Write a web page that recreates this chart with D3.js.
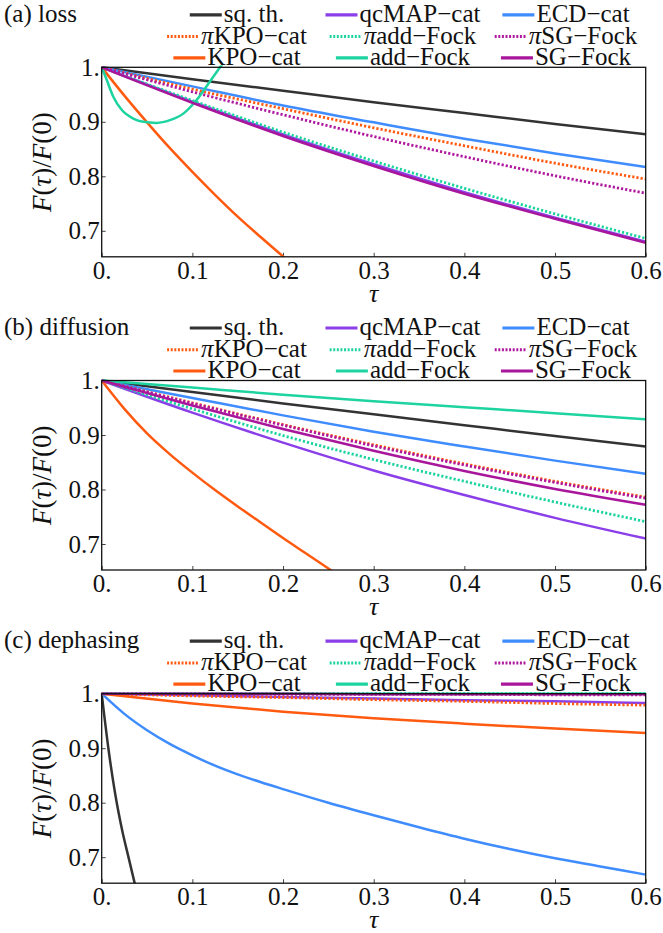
<!DOCTYPE html>
<html>
<head>
<meta charset="utf-8">
<script src="https://cdn.jsdelivr.net/npm/d3@7"></script>
<style>
  body { margin: 0; background: #fff; }
  svg { display: block; }
</style>
</head>
<body>
<div id="chart"></div>
<script>
// ---- data ----
const tau = [0, 0.1, 0.2, 0.3, 0.4, 0.5, 0.6];
const xTicks = [0, 0.1, 0.2, 0.3, 0.4, 0.5, 0.6];
const yTicks = [0.7, 0.8, 0.9, 1.0];

const legendNames = ['sq. th.', 'qcMAP−cat', 'ECD−cat',
                     'πKPO−cat', 'πadd−Fock', 'πSG−Fock',
                     'KPO−cat', 'add−Fock', 'SG−Fock'];
const panelLabels = ['(a) loss', '(b) diffusion', '(c) dephasing'];

// (a) loss
const lossSqTh  = [1, 0.978, 0.957, 0.936, 0.916, 0.896, 0.877];
const lossQcMap = [1, 0.937, 0.877, 0.822, 0.771, 0.724, 0.680];
const lossEcd   = [1, 0.965, 0.930, 0.899, 0.869, 0.842, 0.817];
const lossPiKpo = [1, 0.960, 0.924, 0.889, 0.856, 0.824, 0.795];
const lossPiAdd = [1, 0.939, 0.881, 0.828, 0.778, 0.731, 0.686];
const lossPiSg  = [1, 0.955, 0.913, 0.873, 0.836, 0.801, 0.769];
const lossKpoTau = [0, 0.025, 0.05, 0.075, 0.1, 0.125, 0.15, 0.175, 0.2, 0.225];
const lossKpo    = [1, 0.948, 0.899, 0.852, 0.808, 0.766, 0.726, 0.689, 0.653, 0.619];
const lossAddTau = [0, 0.0055, 0.0128, 0.022, 0.0349, 0.0459, 0.0606, 0.0753, 0.09, 0.1047, 0.1194, 0.1305, 0.14];
const lossAdd    = [1, 0.977, 0.946, 0.922, 0.906, 0.900, 0.898, 0.903, 0.915, 0.940, 0.974, 1.0, 1.022];
const lossSg    = [1, 0.935, 0.874, 0.819, 0.768, 0.722, 0.678];

// (b) diffusion
const diffSqTh  = [1, 0.979, 0.958, 0.938, 0.918, 0.898, 0.879];
const diffQcMap = [1, 0.941, 0.886, 0.835, 0.790, 0.748, 0.710];
const diffEcd   = [1, 0.968, 0.936, 0.906, 0.879, 0.853, 0.829];
const diffPiKpo = [1, 0.959, 0.919, 0.882, 0.847, 0.815, 0.786];
const diffPiAdd = [1, 0.948, 0.899, 0.855, 0.815, 0.777, 0.741];
const diffPiSg  = [1, 0.958, 0.918, 0.880, 0.845, 0.813, 0.784];
const diffKpoTau = [0, 0.025, 0.05, 0.075, 0.1, 0.125, 0.15, 0.175, 0.2, 0.225, 0.25, 0.275];
const diffKpo    = [1, 0.948, 0.903, 0.865, 0.831, 0.799, 0.769, 0.740, 0.711, 0.683, 0.655, 0.627];
const diffAdd   = [1, 0.987, 0.974, 0.962, 0.951, 0.940, 0.929];
const diffSg    = [1, 0.954, 0.911, 0.871, 0.834, 0.801, 0.772];

// (c) dephasing
const dephSqThTau = [0, 0.0075, 0.015, 0.0225, 0.03, 0.0375, 0.045];
const dephSqTh    = [1, 0.898, 0.815, 0.750, 0.697, 0.645, 0.600];
const dephQcMap = [1, 0.997, 0.994, 0.991, 0.988, 0.986, 0.983];
const dephEcdTau = [0, 0.025, 0.05, 0.075, 0.1, 0.125, 0.15, 0.175, 0.2, 0.25, 0.3, 0.35, 0.4, 0.45, 0.5, 0.55, 0.6];
const dephEcd    = [1, 0.963, 0.933, 0.908, 0.887, 0.868, 0.852, 0.838, 0.825, 0.800, 0.777, 0.755, 0.734, 0.715, 0.698, 0.683, 0.668];
const dephPiKpo = [1, 0.996, 0.993, 0.989, 0.986, 0.982, 0.979];
const dephPiAdd = [1, 1, 1, 1, 1, 1, 1];
const dephPiSg  = [1, 1, 0.999, 0.999, 0.999, 0.998, 0.998];
const dephKpo   = [1, 0.982, 0.967, 0.955, 0.945, 0.936, 0.928];
const dephAdd   = [1, 1, 1, 1, 1, 1, 1];
const dephSg    = [1, 1, 1, 0.999, 0.999, 0.999, 0.999];

// styles, in legend order
const styles = [
  { color: '#333333', dotted: false },
  { color: '#8B3FE8', dotted: false },
  { color: '#3F8CFF', dotted: false },
  { color: '#FF5A0F', dotted: true },
  { color: '#1DD3A0', dotted: true },
  { color: '#B0189F', dotted: true },
  { color: '#FF5A0F', dotted: false },
  { color: '#1DD3A0', dotted: false },
  { color: '#A8169C', dotted: false }
];

const panels = [
  [[tau, lossSqTh], [tau, lossQcMap], [tau, lossEcd], [tau, lossPiKpo], [tau, lossPiAdd],
   [tau, lossPiSg], [lossKpoTau, lossKpo], [lossAddTau, lossAdd], [tau, lossSg]],
  [[tau, diffSqTh], [tau, diffQcMap], [tau, diffEcd], [tau, diffPiKpo], [tau, diffPiAdd],
   [tau, diffPiSg], [diffKpoTau, diffKpo], [tau, diffAdd], [tau, diffSg]],
  [[dephSqThTau, dephSqTh], [tau, dephQcMap], [dephEcdTau, dephEcd], [tau, dephPiKpo], [tau, dephPiAdd],
   [tau, dephPiSg], [tau, dephKpo], [tau, dephAdd], [tau, dephSg]]
];

// pick the first serif face that is really installed
function pickFont(names) {
  const ctx = document.createElement('canvas').getContext('2d');
  const probe = 'mmmmmwwwlliiQ0.9';
  ctx.font = '40px monospace';
  const base = ctx.measureText(probe).width;
  for (const n of names) {
    ctx.font = `40px "${n}", monospace`;
    if (Math.abs(ctx.measureText(probe).width - base) > 0.5) return `"${n}"`;
  }
  return 'serif';
}
const serif = pickFont(['Liberation Serif', 'Tinos', 'DejaVu Serif', 'Noto Serif', 'Nimbus Roman',
  'FreeSerif', 'Times New Roman', 'Times', 'Latin Modern Roman', 'CMU Serif']) + ', serif';

// ---- layout ----
const width = 663, height = 933;
const x0 = 101.7, x1 = 645.7;
const panelTops = [67.3, 380.5, 693.7];
const plotH = 189.5;
const colCenters = [237, 403, 566];
const fontSize = 24;

const svg = d3.select('#chart').append('svg')
  .attr('width', width)
  .attr('height', height)
  .style('font-family', serif);

const x = d3.scaleLinear().domain([0, 0.6]).range([x0, x1]);

function writeName(textSel, name) {
  // pi is set in italic like in the math font
  if (name.startsWith('π')) {
    textSel.append('tspan').style('font-style', 'italic').text('π');
    textSel.append('tspan').text(name.slice(1));
  } else {
    textSel.text(name);
  }
}

panels.forEach(function(series, i) {
  const top = panelTops[i];
  const bottom = top + plotH;
  const y = d3.scaleLinear().domain([0.6523, 1]).range([bottom, top]);
  const g = svg.append('g');

  // clip
  svg.append('clipPath').attr('id', 'clip' + i)
    .append('rect')
    .attr('x', x0 - 1).attr('y', top - 2)
    .attr('width', x1 - x0 + 2).attr('height', plotH + 2);

  // axes
  const xAxis = d3.axisBottom(x).tickValues(xTicks)
    .tickSizeInner(-4).tickSizeOuter(0).tickPadding(4)
    .tickFormat(d => d === 0 ? '0.' : d3.format('.1f')(d));
  g.append('g').attr('transform', `translate(0,${bottom})`).call(xAxis)
    .call(a => a.select('.domain').remove())
    .attr('font-family', null).attr('font-size', fontSize + 1)
    .call(a => a.selectAll('line').attr('stroke', '#444'))
    .call(a => a.selectAll('text').attr('fill', '#111'));

  const yAxis = d3.axisLeft(y).tickValues(yTicks)
    .tickSizeInner(-4).tickSizeOuter(0).tickPadding(2)
    .tickFormat(d => d === 1 ? '1.' : d3.format('.1f')(d));
  g.append('g').attr('transform', `translate(${x0},0)`).call(yAxis)
    .call(a => a.select('.domain').remove())
    .attr('font-family', null).attr('font-size', fontSize + 1)
    .call(a => a.selectAll('line').attr('stroke', '#444'))
    .call(a => a.selectAll('text').attr('fill', '#111'));

  // curves
  const line = d3.line()
    .x(d => x(d[0]))
    .y(d => y(d[1]))
    .curve(d3.curveMonotoneX);

  const curves = g.append('g').attr('clip-path', `url(#clip${i})`);
  series.forEach(function(s, k) {
    const pts = s[0].map((t, j) => [t, s[1][j]]);
    curves.append('path')
      .datum(pts)
      .attr('d', line)
      .attr('fill', 'none')
      .attr('stroke', styles[k].color)
      .attr('stroke-width', styles[k].dotted ? 2.8 : 2.5)
      .attr('stroke-dasharray', styles[k].dotted ? '2.2,2' : null);
  });

  // frame
  g.append('rect')
    .attr('x', x0).attr('y', top)
    .attr('width', x1 - x0).attr('height', plotH)
    .attr('fill', 'none').attr('stroke', '#111').attr('stroke-width', 1.3);

  // axis titles
  g.append('text')
    .attr('x', (x0 + x1) / 2).attr('y', bottom + 45)
    .attr('text-anchor', 'middle').attr('font-size', fontSize + 2)
    .attr('fill', '#111')
    .style('font-style', 'italic').text('τ');

  const yl = g.append('text')
    .attr('transform', `translate(51,${(top + bottom) / 2}) rotate(-90)`)
    .attr('text-anchor', 'middle').attr('font-size', fontSize + 3)
    .attr('fill', '#111');
  yl.append('tspan').style('font-style', 'italic').text('F');
  yl.append('tspan').text('(');
  yl.append('tspan').style('font-style', 'italic').text('τ');
  yl.append('tspan').text(')/');
  yl.append('tspan').style('font-style', 'italic').text('F');
  yl.append('tspan').text('(0)');

  // panel label
  g.append('text')
    .attr('x', 4).attr('y', top - 45.5)
    .attr('font-size', fontSize + 1).attr('fill', '#111')
    .text(panelLabels[i]);

  // legend, entries centred in three columns
  const rowBase = [top - 45.5, top - 23.8, top - 2.5];
  legendNames.forEach(function(name, k) {
    const r = Math.floor(k / 3), c = k % 3;
    const item = g.append('g');
    item.append('line')
      .attr('x1', 0).attr('x2', 32)
      .attr('y1', rowBase[r] - 7).attr('y2', rowBase[r] - 7)
      .attr('stroke', styles[k].color)
      .attr('stroke-width', styles[k].dotted ? 3 : 3.2)
      .attr('stroke-dasharray', styles[k].dotted ? '2,1.6' : null);
    const t = item.append('text')
      .attr('x', 34).attr('y', rowBase[r])
      .attr('font-size', fontSize + 1).attr('fill', '#111');
    writeName(t, name);
    const w = 34 + t.node().getComputedTextLength();
    item.attr('transform', `translate(${colCenters[c] - w / 2},0)`);
  });
});
</script>
</body>
</html>
